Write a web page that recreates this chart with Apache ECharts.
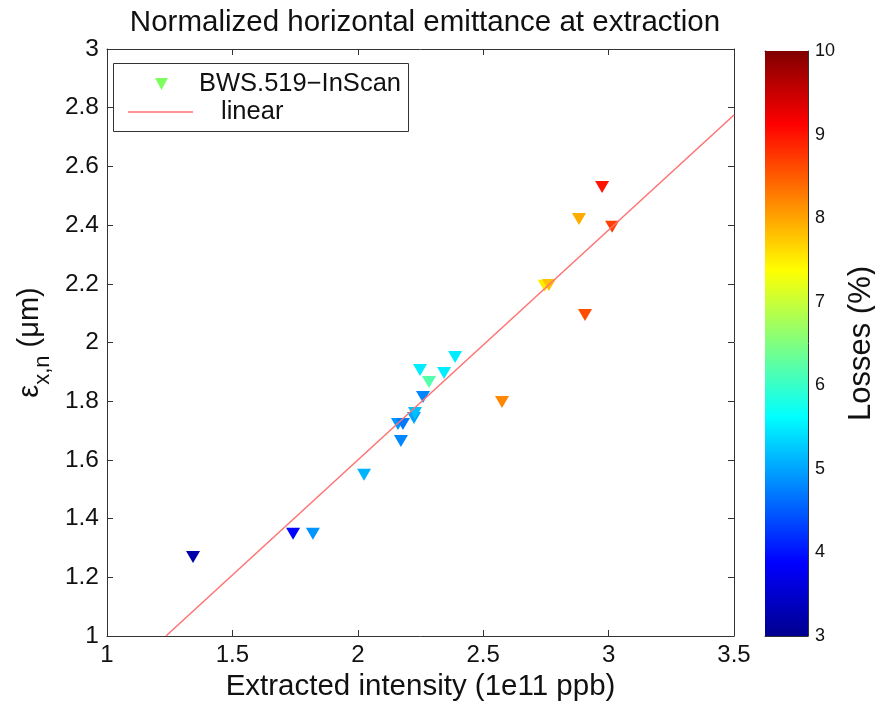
<!DOCTYPE html>
<html>
<head>
<meta charset="utf-8">
<script src="https://cdn.jsdelivr.net/npm/echarts@6/dist/echarts.min.js"></script>
<style>html,body{margin:0;padding:0;background:#fff;}#c{width:875px;height:702px;}</style>
</head>
<body>
<div id="c"></div>
<script>
// Data
var intensity = [1.343, 1.742, 1.821, 2.025, 2.172, 2.160, 2.180, 2.224, 2.228, 2.260, 2.284, 2.248, 2.344, 2.388, 2.575, 2.745, 2.762, 2.882, 2.906, 2.974, 3.014];
var emittance = [1.269, 1.348, 1.348, 1.549, 1.664, 1.722, 1.722, 1.743, 1.760, 1.814, 1.865, 1.906, 1.896, 1.951, 1.797, 2.193, 2.196, 2.421, 2.094, 2.530, 2.394];
var losses    = [3.2,   3.9,   4.9,   5.1,   4.8,   4.9,   4.7,   5.0,   5.2,   4.8,   6.2,   5.5,   5.5,   5.5,   8.2,   7.5,   7.8,   7.95,  8.6,   9.0,   8.7];
var linearX = [1.235, 3.5];
var linearY = [1.0, 2.775];
var xTicks = [1, 1.5, 2, 2.5, 3, 3.5];
var yTicks = [1, 1.2, 1.4, 1.6, 1.8, 2, 2.2, 2.4, 2.6, 2.8, 3];
var lossMin = 3, lossMax = 10;
var jet = ['#00008f','#0000ff','#0080ff','#00ffff','#80ff80','#ffff00','#ff8000','#ff0000','#800000'];

var scatterData = intensity.map(function(x, i){ return [x, emittance[i], losses[i]]; });
var lineData = linearX.map(function(x, i){ return [x, linearY[i]]; });

var FONT = 'Liberation Sans, Arial, sans-serif';
var chart = echarts.init(document.getElementById('c'), null, {renderer: 'canvas'});

var axLine = {show: true, lineStyle: {color: '#333', width: 1}};
var option = {
  backgroundColor: '#fff',
  animation: false,
  textStyle: {fontFamily: FONT},
  title: {
    text: 'Normalized horizontal emittance at extraction',
    left: 420, top: 3, textAlign: 'center',
    textStyle: {fontFamily: FONT, fontSize: 29.5, fontWeight: 'normal', color: '#111'}
  },
  grid: [
    {left: 107, top: 49, width: 627, height: 587, containLabel: false, outerBoundsMode: 'none'},
    {left: 765, top: 51, width: 43, height: 585, containLabel: false, outerBoundsMode: 'none'}
  ],
  xAxis: [
    {gridIndex: 0, type: 'value', min: xTicks[0], max: xTicks[xTicks.length-1], interval: 0.5, position: 'bottom',
     axisLine: axLine, axisTick: {inside: true, length: 6, lineStyle: {color: '#333'}}, splitLine: {show: false},
     axisLabel: {fontSize: 24, color: '#111', margin: 7, fontFamily: FONT},
     name: 'Extracted intensity (1e11 ppb)', nameLocation: 'middle', nameGap: 33,
     nameTextStyle: {fontSize: 29.5, color: '#111', fontFamily: FONT}},
    {gridIndex: 0, type: 'value', min: xTicks[0], max: xTicks[xTicks.length-1], interval: 0.5, position: 'top',
     axisLine: axLine, axisTick: {inside: true, length: 6, lineStyle: {color: '#333'}}, splitLine: {show: false},
     axisLabel: {show: false}},
    {gridIndex: 1, type: 'category', data: ['c'], position: 'bottom', axisLine: axLine, axisTick: {show: false}, axisLabel: {show: false}},
    {gridIndex: 1, type: 'category', data: ['c'], position: 'top', axisLine: axLine, axisTick: {show: false}, axisLabel: {show: false}}
  ],
  yAxis: [
    {gridIndex: 0, type: 'value', min: yTicks[0], max: yTicks[yTicks.length-1], interval: 0.2, position: 'left',
     axisLine: axLine, axisTick: {inside: true, length: 6, lineStyle: {color: '#333'}}, splitLine: {show: false},
     axisLabel: {fontSize: 24.5, color: '#111', margin: 8, fontFamily: FONT},
     name: '{e|ε}{s|x,n}{e| (μm)}', nameLocation: 'middle', nameGap: 57, nameRotate: 90,
     nameTextStyle: {fontFamily: FONT, rich: {
       e: {fontSize: 29, color: '#111', fontFamily: FONT, verticalAlign: 'bottom', lineHeight: 34},
       s: {fontSize: 22, color: '#111', fontFamily: FONT, verticalAlign: 'bottom', lineHeight: 22, padding: [0,0,-10,0]}
     }}},
    {gridIndex: 0, type: 'value', min: yTicks[0], max: yTicks[yTicks.length-1], interval: 0.2, position: 'right',
     axisLine: axLine, axisTick: {inside: true, length: 6, lineStyle: {color: '#333'}}, splitLine: {show: false},
     axisLabel: {show: false}},
    {gridIndex: 1, type: 'value', min: lossMin, max: lossMax, interval: 1, position: 'right',
     axisLine: axLine, axisTick: {inside: true, length: 5, lineStyle: {color: '#333'}}, splitLine: {show: false},
     axisLabel: {fontSize: 18, color: '#111', margin: 7, fontFamily: FONT},
     name: 'Losses (%)', nameLocation: 'middle', nameGap: 38, nameRotate: 90,
     nameTextStyle: {fontSize: 31, color: '#111', fontFamily: FONT}},
    {gridIndex: 1, type: 'value', min: lossMin, max: lossMax, interval: 1, position: 'left',
     axisLine: axLine, axisTick: {inside: true, length: 5, lineStyle: {color: '#333'}}, splitLine: {show: false},
     axisLabel: {show: false}}
  ],
  visualMap: {
    show: false, type: 'continuous', seriesIndex: 0, dimension: 2,
    min: lossMin, max: lossMax, inRange: {color: jet}
  },
  series: [
    {type: 'scatter', xAxisIndex: 0, yAxisIndex: 0, data: scatterData,
     symbol: 'triangle', symbolRotate: 180, symbolSize: [14, 12], itemStyle: {opacity: 1}, z: 3},
    {type: 'line', xAxisIndex: 0, yAxisIndex: 0, data: lineData, showSymbol: false, symbol: 'none',
     lineStyle: {color: '#ff7272', width: 1.5}, z: 4, silent: true},
    {type: 'bar', xAxisIndex: 2, yAxisIndex: 2, stack: 'cb', data: [lossMin], barWidth: '100%',
     itemStyle: {color: 'rgba(0,0,0,0)'}, silent: true},
    {type: 'bar', xAxisIndex: 2, yAxisIndex: 2, stack: 'cb', data: [lossMax - lossMin], barWidth: '100%',
     itemStyle: {color: new echarts.graphic.LinearGradient(0, 1, 0, 0,
        jet.map(function(c, i){ return {offset: i/(jet.length-1), color: c}; }))}, silent: true}
  ],
  graphic: [
    {type: 'rect', left: 113, top: 63, z: 10, shape: {width: 295, height: 68},
     style: {fill: '#fff', stroke: '#333', lineWidth: 1}},
    {type: 'polygon', z: 11, shape: {points: [[155, 78], [168, 78], [161.5, 90]]}, style: {fill: '#80ff60'}},
    {type: 'text', left: 199, top: 71, z: 11, style: {text: 'BWS.519\u2212InScan', fontSize: 25.5, fontFamily: FONT, fill: '#111'}},
    {type: 'line', z: 11, shape: {x1: 128, y1: 112, x2: 193, y2: 112}, style: {stroke: '#ff7272', lineWidth: 1.5}},
    {type: 'text', left: 221, top: 99, z: 11, style: {text: 'linear', fontSize: 25.5, fontFamily: FONT, fill: '#111'}}
  ]
};
chart.setOption(option);
</script>
</body>
</html>
